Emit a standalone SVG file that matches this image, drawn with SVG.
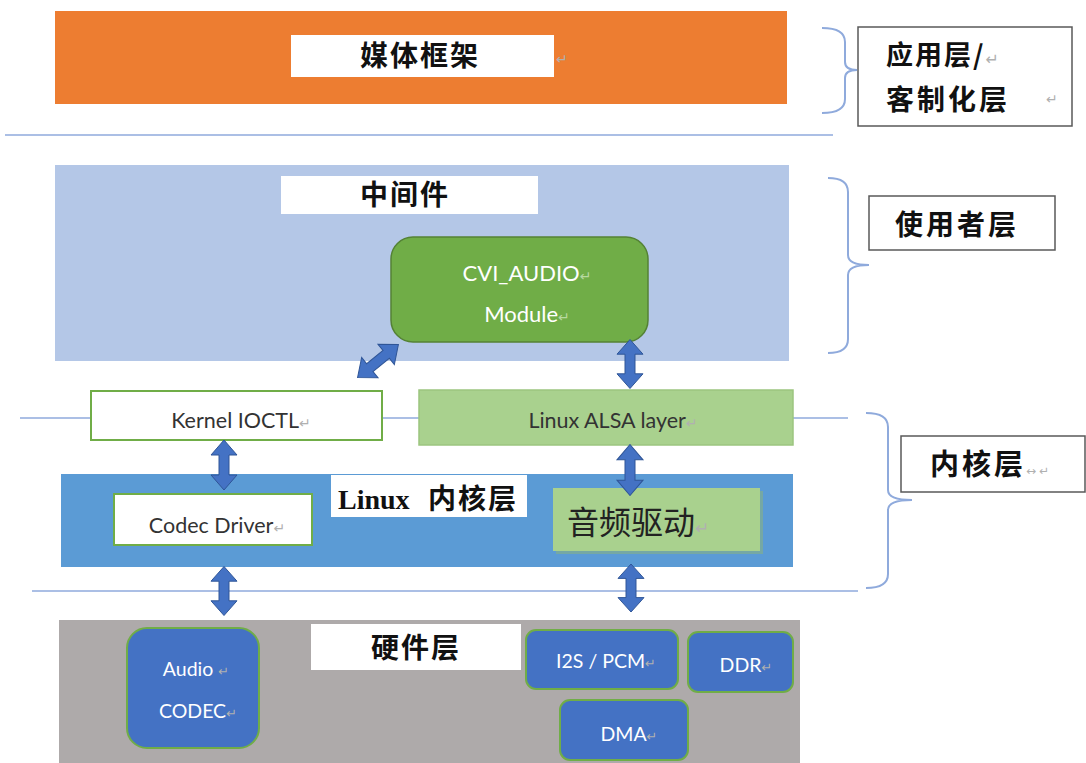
<svg xmlns="http://www.w3.org/2000/svg" width="1086" height="763" viewBox="0 0 1086 763">
<style>
.cjk{font-family:"Noto Sans CJK SC","Noto Sans CJK JP",sans-serif;font-weight:bold;fill:#111}
.lat{font-family:Lato,"Liberation Sans",sans-serif}
.ret{font-family:"DejaVu Sans",sans-serif;fill:#b0b0b0;font-weight:normal}
.hline{stroke:#8FAADC;stroke-width:1.6;fill:none}
.brace{stroke:#8FAADC;stroke-width:2;fill:none}
.label{fill:#fff;stroke:#595959;stroke-width:1.5}
.white{fill:#fff}
.arrow{fill:#4472C4;stroke:#2F5597;stroke-width:1}
.hw{fill:#4472C4;stroke:#70AD47;stroke-width:2}
.hwt{font-family:Lato,"Liberation Sans",sans-serif;fill:#fff;font-size:19.5px;text-anchor:middle}
</style>
<defs>
<path id="dbl" d="M0,-25 L13,-10 L5,-10 L5,10 L13,10 L0,25 L-13,10 L-5,10 L-5,-10 L-13,-10 Z"/>
</defs>

<g id="lines">
<line class="hline" x1="5" y1="135" x2="833" y2="135"/>
<line class="hline" x1="20" y1="418" x2="848" y2="418"/>
<line class="hline" x1="32" y1="591" x2="858" y2="591"/>
</g>

<g id="media-framework">
<rect x="55" y="11" width="732" height="93" fill="#ED7D31"/>
<rect class="white" x="291" y="35" width="263" height="42"/>
<text class="cjk" x="420" y="66" font-size="28" text-anchor="middle" letter-spacing="2">媒体框架</text>
<text class="ret" x="556" y="64" font-size="14">↵</text>
</g>

<g id="app-layer-label">
<path class="brace" d="M822,28 Q845,28 845,42 V62 Q845,70 857,70 M822,113 Q845,113 845,99 V78 Q845,70 857,70"/>
<rect class="label" x="858" y="27" width="214" height="99"/>
<text class="cjk" x="886" y="65" font-size="27" letter-spacing="2">应用层/<tspan class="ret" font-size="16">↵</tspan></text>
<text class="cjk" x="886" y="110" font-size="28" letter-spacing="3">客制化层</text>
<text class="ret" x="1046" y="104" font-size="14">↵</text>
</g>

<g id="middleware">
<rect x="55" y="165" width="734" height="196" fill="#B4C7E7"/>
<rect class="white" x="281" y="176" width="257" height="38"/>
<text class="cjk" x="405" y="205" font-size="28" text-anchor="middle" letter-spacing="2">中间件</text>
</g>

<g id="user-layer-label">
<path class="brace" d="M828,178 Q848,178 848,192 V255 Q848,265 869,265 M828,353 Q848,353 848,339 V275 Q848,265 869,265"/>
<rect class="label" x="869" y="196" width="186" height="54"/>
<text class="cjk" x="895" y="235" font-size="28" letter-spacing="3">使用者层</text>
</g>

<g id="cvi-audio">
<rect x="391" y="237" width="257" height="105" rx="22" fill="#70AD47" stroke="#548235" stroke-width="1.5"/>
<text class="lat" x="527" y="281" font-size="22" fill="#fff" text-anchor="middle">CVI_AUDIO<tspan fill="#b8d9a0" font-size="14" font-family="DejaVu Sans">↵</tspan></text>
<text class="lat" x="527" y="322" font-size="22" fill="#fff" text-anchor="middle">Module<tspan fill="#b8d9a0" font-size="14" font-family="DejaVu Sans">↵</tspan></text>
</g>

<g id="kernel-ioctl">
<rect x="91" y="391" width="291" height="49" fill="#fff" stroke="#70AD47" stroke-width="2"/>
<text class="lat" x="241" y="428" font-size="21.5" fill="#333" text-anchor="middle">Kernel IOCTL<tspan class="ret" font-size="14">↵</tspan></text>
</g>

<g id="alsa">
<rect x="419" y="390" width="374" height="55" fill="#A9D18E" stroke="#9CC57F" stroke-width="1.5"/>
<text class="lat" x="613" y="428" font-size="21.5" fill="#333" text-anchor="middle">Linux ALSA layer<tspan class="ret" font-size="14">↵</tspan></text>
</g>

<g id="kernel-layer-label">
<path class="brace" d="M866,413 Q888,413 888,427 V490 Q888,500 912,500 M866,588 Q888,588 888,574 V510 Q888,500 912,500"/>
<rect class="label" x="901" y="436" width="184" height="56"/>
<text class="cjk" x="930" y="475" font-size="29" letter-spacing="3">内核层<tspan class="ret" font-size="12">↔↵</tspan></text>
</g>

<g id="linux-kernel">
<rect x="61" y="474" width="732" height="93" fill="#5B9BD5"/>
<rect class="white" x="331" y="475" width="196" height="42"/>
<text y="509" font-size="28" font-weight="bold" fill="#111" font-family="'Liberation Serif','Noto Sans CJK SC',serif"><tspan x="338">Linux</tspan><tspan x="428" font-size="28" letter-spacing="2" font-family="'Noto Sans CJK SC',serif">内核层</tspan></text>
</g>

<g id="codec-driver">
<rect x="114" y="494" width="198" height="51" fill="#fff" stroke="#70AD47" stroke-width="2"/>
<text class="lat" x="217" y="533" font-size="21.5" fill="#333" text-anchor="middle">Codec Driver<tspan class="ret" font-size="14">↵</tspan></text>
</g>

<g id="audio-driver">
<rect x="556" y="491" width="207" height="63" fill="#8FB573" opacity="0.5"/>
<rect x="553" y="488" width="207" height="63" fill="#A9D18E"/>
<text x="567" y="534" font-size="32" fill="#222" font-family="'Noto Sans CJK SC',sans-serif">音频驱动<tspan class="ret" font-size="17">↵</tspan></text>
</g>

<g id="hardware">
<rect x="59" y="620" width="741" height="143" fill="#AEAAAA"/>
<rect class="white" x="311" y="624" width="210" height="46"/>
<text class="cjk" x="416" y="658" font-size="28" text-anchor="middle" letter-spacing="2">硬件层</text>
</g>

<g id="audio-codec">
<rect class="hw" x="127" y="628" width="132" height="120" rx="20"/>
<text class="hwt" x="196" y="676">Audio <tspan class="ret" font-size="13">↵</tspan></text>
<text class="hwt" x="198" y="718">CODEC<tspan class="ret" font-size="13">↵</tspan></text>
</g>

<g id="i2s-pcm">
<rect class="hw" x="526" y="630" width="152" height="59" rx="10"/>
<text class="hwt" x="606" y="668">I2S / PCM<tspan class="ret" font-size="13">↵</tspan></text>
</g>

<g id="ddr">
<rect class="hw" x="688" y="632" width="105" height="60" rx="10"/>
<text class="hwt" x="746" y="672">DDR<tspan class="ret" font-size="13">↵</tspan></text>
</g>

<g id="dma">
<rect class="hw" x="560" y="700" width="128" height="60" rx="10"/>
<text class="hwt" x="629" y="741">DMA<tspan class="ret" font-size="13">↵</tspan></text>
</g>

<g id="connectors">
<use href="#dbl" class="arrow" transform="translate(378,361) rotate(51) scale(1,1.05)"/>
<use href="#dbl" class="arrow" transform="translate(630,364) scale(1,0.98)"/>
<use href="#dbl" class="arrow" transform="translate(224,465)"/>
<use href="#dbl" class="arrow" transform="translate(630,470) scale(1,1.02)"/>
<use href="#dbl" class="arrow" transform="translate(224,591) scale(1,0.98)"/>
<use href="#dbl" class="arrow" transform="translate(631,588) scale(1,0.96)"/>
</g>
</svg>
